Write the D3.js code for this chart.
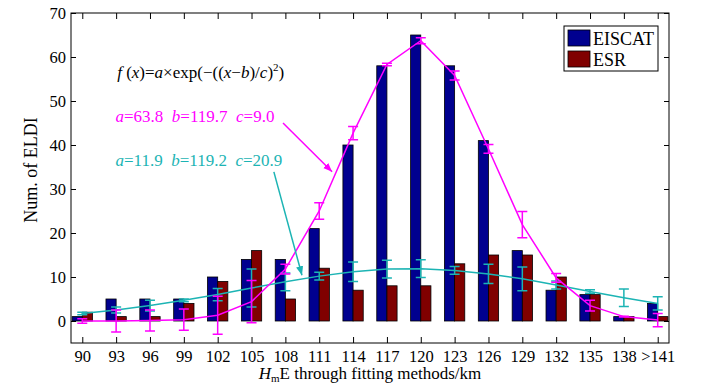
<!DOCTYPE html>
<html>
  <head>
    <meta charset="utf-8">
    <title>ELDI HmE histogram</title>
    <style media="screen">
      body {margin:0; background:#fff}
    </style>
  </head>
  <body>
    <script src="https://cdn.jsdelivr.net/npm/d3@7"></script>
    <script type="text/javascript">

    const categories = ['90','93','96','99','102','105','108','111','114','117','120','123','126','129','132','135','138','>141']
    const eiscat = [1,5,5,5,10,14,14,21,40,58,65,58,41,16,7,6,1,4]
    const esr    = [2,1,1,4,9,16,5,12,7,8,8,13,15,15,10,6,1,1]
    // fitted values read at each bin, with error bar half widths
    const fitEiscat = [0,0,0.1,0.3,1.3,4.4,11.8,25,42.7,58.3,63.7,55.8,39.1,21.9,9.8,3.5,1.0,0.2]
    const errEiscat = [0.5,2.5,2.4,2.4,4.3,4.8,1.1,1.9,1.5,0.3,0.7,1.0,1.0,3.0,1.0,1.2,0.1,1.5]
    const fitEsr = [1.7,2.5,3.5,4.7,6.0,7.5,8.9,10.2,11.2,11.8,11.9,11.5,10.7,9.6,8.2,6.7,5.3,4.0]
    const errEsr = [0.3,0.7,1.2,0.3,1.4,4.3,2.0,0.9,2.2,2.0,2.0,0.9,2.2,2.7,0.9,0.4,2.0,1.5]
    const yTicks = [0,10,20,30,40,50,60,70]

    const W = 701, H = 387
    const pl = 71, pr = 669, pt = 13, pb = 343
    const FONT = 'Liberation Serif'

    const svg = d3.select('body').append('svg')
      .attr('width', W)
      .attr('height', H)
      .attr('font-family', FONT)

    const x = d3.scaleLinear().domain([-1/3, categories.length - 2/3]).range([pl, pr])
    const y = d3.scaleLinear().domain([-5, 70]).range([pb, pt])
    const bw = (x(1) - x(0)) * 0.3

    const idx = d3.range(categories.length)

    // bars
    const gb = svg.append('g')
    gb.selectAll('.b1').data(eiscat).join('rect')
      .attr('x', (d,i) => x(i) - bw)
      .attr('y', d => y(d))
      .attr('width', bw)
      .attr('height', d => y(0) - y(d))
      .attr('fill', '#00008f').attr('stroke', '#000').attr('stroke-width', 0.8)
    gb.selectAll('.b2').data(esr).join('rect')
      .attr('x', (d,i) => x(i))
      .attr('y', d => y(d))
      .attr('width', bw)
      .attr('height', d => y(0) - y(d))
      .attr('fill', '#800000').attr('stroke', '#000').attr('stroke-width', 0.8)

    // fits + error bars
    const line = d3.line().x((d,i) => x(i)).y(d => y(d))

    function fit(vals, errs, color) {
      const g = svg.append('g').attr('stroke', color).attr('fill', 'none').attr('stroke-width', 1.5)
      g.append('path').attr('d', line(vals))
      idx.forEach(i => {
        const cx = x(i), lo = y(vals[i] - errs[i]), hi = y(vals[i] + errs[i])
        g.append('path').attr('d', `M${cx},${lo}V${hi}M${cx-5},${lo}H${cx+5}M${cx-5},${hi}H${cx+5}`)
      })
    }
    fit(fitEsr, errEsr, '#1cb4b4')
    fit(fitEiscat, errEiscat, '#ff00ff')

    // axes
    const box = svg.append('g')
    box.append('g').attr('transform', `translate(0,${pb})`)
      .call(d3.axisBottom(x).tickValues(idx).tickFormat(i => categories[i]).tickSizeInner(-6).tickSizeOuter(0).tickPadding(7))
    box.append('g').attr('transform', `translate(0,${pt})`)
      .call(d3.axisTop(x).tickValues(idx).tickFormat('').tickSizeInner(-6).tickSizeOuter(0))
    box.append('g').attr('transform', `translate(${pl},0)`)
      .call(d3.axisLeft(y).tickValues(yTicks).tickSizeInner(-5).tickSizeOuter(0).tickPadding(5))
    box.append('g').attr('transform', `translate(${pr},0)`)
      .call(d3.axisRight(y).tickValues(yTicks).tickFormat('').tickSizeInner(-5).tickSizeOuter(0))
    box.selectAll('g').attr('font-family', FONT).attr('font-size', 16.5)
    box.selectAll('.domain').remove()
    box.selectAll('.tick line').attr('stroke', '#000')
    box.selectAll('.tick text').attr('fill', '#000')
    box.append('rect').attr('x', pl).attr('y', pt).attr('width', pr - pl).attr('height', pb - pt)
      .attr('fill', 'none').attr('stroke', '#000').attr('stroke-width', 1)

    // axis titles
    svg.append('text').attr('transform', `translate(${pl - 34},${(pt + pb) / 2 - 8}) rotate(-90)`)
      .attr('text-anchor', 'middle').attr('font-size', 18).text('Num. of ELDI')
    const xl = svg.append('text').attr('x', (pl + pr) / 2).attr('y', 379)
      .attr('text-anchor', 'middle').attr('font-size', 17)
    xl.append('tspan').attr('font-style', 'italic').text('H')
    xl.append('tspan').attr('font-size', 11).attr('dy', 3).text('m')
    xl.append('tspan').attr('dy', -3).text('E through fitting methods/km')

    // legend
    const lg = svg.append('g').attr('transform', 'translate(564,26)')
    lg.append('rect').attr('width', 94).attr('height', 45).attr('fill', '#fff').attr('stroke', '#000')
    ;[['EISCAT', '#00008f'], ['ESR', '#800000']].forEach(([name, c], i) => {
      lg.append('rect').attr('x', 4).attr('y', 4 + i * 21).attr('width', 22).attr('height', 16)
        .attr('fill', c).attr('stroke', '#000').attr('stroke-width', 0.8)
      lg.append('text').attr('x', 29).attr('y', 19 + i * 21).attr('font-size', 18).text(name)
    })

    // equation
    const eq = svg.append('text').attr('x', x(1.03)).attr('y', y(55.2)).attr('font-size', 17)
    const parts = [['f', 1], [' (', 0], ['x', 1], [')=', 0], ['a', 1], ['\u00d7exp(\u2212((', 0], ['x', 1], ['\u2212', 0], ['b', 1], [')/', 0], ['c', 1], [')', 0]]
    parts.forEach(([t, it]) => eq.append('tspan').attr('font-style', it ? 'italic' : 'normal').text(t))
    eq.append('tspan').attr('font-size', 11).attr('dy', -7).text('2')
    eq.append('tspan').attr('dy', 7).text(')')

    function params(vals, color, yv) {
      const t = svg.append('text').attr('x', x(0.98)).attr('y', y(yv)).attr('font-size', 17)
        .attr('fill', color).style('white-space', 'pre')
      vals.forEach(([k, v], i) => {
        t.append('tspan').attr('font-style', 'italic').attr('fill', color).text((i ? '  ' : '') + k)
        t.append('tspan').attr('fill', color).text('=' + v)
      })
    }
    params([['a', '63.8'], ['b', '119.7'], ['c', '9.0']], '#ff00ff', 45.2)
    params([['a', '11.9'], ['b', '119.2'], ['c', '20.9']], '#1cb4b4', 35.2)

    // arrows
    const defs = svg.append('defs')
    function arrow(id, color, x0, y0, x1, y1) {
      defs.append('marker').attr('id', id).attr('viewBox', '0 0 10 10').attr('refX', 10).attr('refY', 5)
        .attr('markerWidth', 9).attr('markerHeight', 9).attr('markerUnits', 'userSpaceOnUse').attr('orient', 'auto')
        .append('path').attr('d', 'M0,1L10,5L0,9Z').attr('fill', color)
      svg.append('line').attr('x1', x(x0)).attr('y1', y(y0)).attr('x2', x(x1)).attr('y2', y(y1))
        .attr('stroke', color).attr('stroke-width', 1.5).attr('marker-end', `url(#${id})`)
    }
    arrow('am', '#ff00ff', 5.93, 45, 7.38, 33.9)
    arrow('ac', '#1cb4b4', 5.66, 33.9, 6.49, 10.4)

    </script>
  </body>
</html>
